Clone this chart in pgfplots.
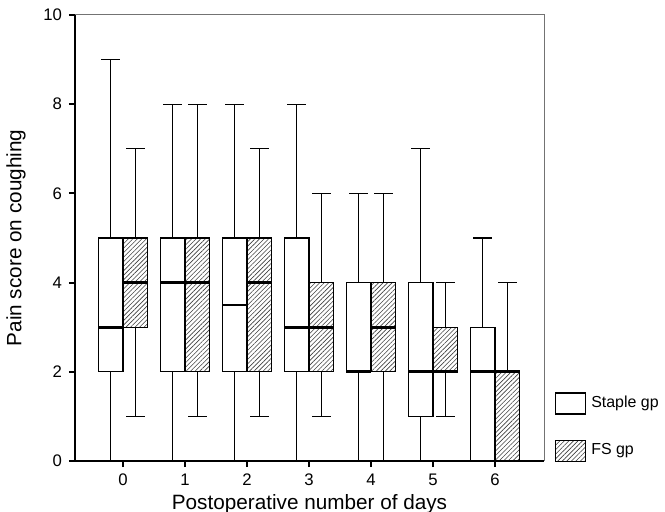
\documentclass[border=0pt]{standalone}
\usepackage{fontspec}
\setmainfont{Liberation Sans}
\usepackage{pgfplots}
\pgfplotsset{compat=1.18}
\usepgfplotslibrary{statistics}
\usetikzlibrary{patterns.meta}

\tikzset{
  hatch/.style={postaction={pattern={Lines[angle=45,distance=1.6bp,line width=0.3bp]},pattern color=black!75}},
}
% one box: day, group offset, lower whisker, lower quartile, median, upper quartile, upper whisker
\newcommand\painbox[8][]{%
  \addplot[draw=black, forget plot, #1,
    boxplot prepared={draw position=#2#3, box extend=0.4, whisker extend=0.3,
      lower whisker=#4, lower quartile=#5, median=#6,
      upper quartile=#7, upper whisker=#8}]
    coordinates {};}

\begin{document}
\begin{tikzpicture}
\useasboundingbox (-37.5bp,-25.5bp) rectangle (295bp,230.5bp);
\begin{axis}[
  scale only axis, width=234.5bp, height=223bp,
  xmin=-0.775, xmax=6.79, ymin=0, ymax=10,
  axis x line*=bottom, axis y line*=left,
  axis line style={line width=1bp},
  xtick={0,...,6}, ytick={0,2,...,10},
  tick align=outside, major tick length=3bp,
  tick style={line width=1bp, black},
  ticklabel style={font=\fontsize{8.4}{10}\selectfont},
  /pgf/number format/assume math mode=true,
  xlabel={Postoperative number of days},
  ylabel={Pain score on coughing},
  label style={font=\fontsize{10.4}{12}\selectfont},
  xlabel style={at={(rel axis cs:0.5,0)}, anchor=center, yshift=-21.5bp},
  ylabel style={at={(rel axis cs:0,0.5)}, anchor=center, yshift=29.5bp},
  clip=false,
  boxplot/draw direction=y,
  boxplot/every box/.style={line width=0.65bp, fill=white},
  boxplot/every whisker/.style={line width=0.65bp},
  boxplot/every median/.style={line width=1.4bp},
  legend style={at={(rel axis cs:1,0)}, anchor=south west, xshift=5.5bp, yshift=-0.5bp,
    draw=none, fill=none, inner sep=0pt, outer sep=0pt,
    nodes={inner sep=0pt}, row sep=12.5bp, column sep=2.5bp,
    font=\fontsize{8}{10}\selectfont, cells={anchor=west}},
  legend image code/.code={\draw[#1] (0bp,-5.25bp) rectangle (15bp,5.25bp);},
  after end axis/.code={\draw[black!55, line width=0.5bp] (rel axis cs:0,1) -- (rel axis cs:1,1) -- (rel axis cs:1,0);},
]
% Staple gp
\painbox{0}{-0.2}{0}{2}{3}{5}{9}
\painbox{1}{-0.2}{0}{2}{4}{5}{8}
\painbox{2}{-0.2}{0}{2}{3.5}{5}{8}
\painbox{3}{-0.2}{0}{2}{3}{5}{8}
\painbox{4}{-0.2}{0}{2}{2}{4}{6}
\painbox{5}{-0.2}{0}{1}{2}{4}{7}
\painbox{6}{-0.2}{0}{0}{2}{3}{5}
% FS gp
\painbox[boxplot/every box/.append style={hatch}]{0}{+0.2}{1}{3}{4}{5}{7}
\painbox[boxplot/every box/.append style={hatch}]{1}{+0.2}{1}{2}{4}{5}{8}
\painbox[boxplot/every box/.append style={hatch}]{2}{+0.2}{1}{2}{4}{5}{7}
\painbox[boxplot/every box/.append style={hatch}]{3}{+0.2}{1}{2}{3}{4}{6}
\painbox[boxplot/every box/.append style={hatch}]{4}{+0.2}{0}{2}{3}{4}{6}
\painbox[boxplot/every box/.append style={hatch}]{5}{+0.2}{1}{2}{2}{3}{4}
\painbox[boxplot/every box/.append style={hatch}]{6}{+0.2}{0}{0}{2}{2}{4}
\addlegendimage{draw=black, line width=0.65bp, fill=white}
\addlegendentry{Staple gp}
\addlegendimage{draw=black, line width=0.65bp, fill=white, hatch}
\addlegendentry{FS gp}
\end{axis}
\end{tikzpicture}
\end{document}
